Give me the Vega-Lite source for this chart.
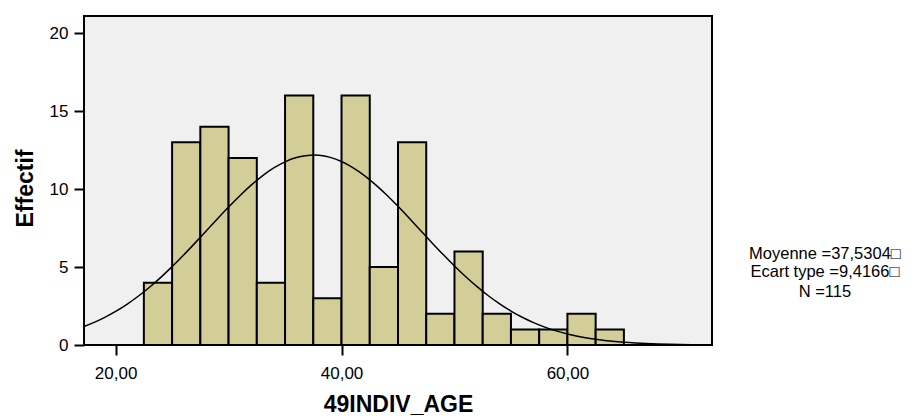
{
  "$schema": "https://vega.github.io/schema/vega-lite/v6.json",
  "width": 628,
  "height": 329,
  "autosize": {"type": "none"},
  "padding": {"left": 84, "top": 16, "right": 211, "bottom": 71},
  "background": "white",
  "config": {
    "view": {"fill": "#f0f0f0", "stroke": "black", "strokeWidth": 2},
    "font": "Liberation Sans",
    "axis": {
      "grid": false,
      "domain": false,
      "tickColor": "black",
      "tickWidth": 2,
      "tickSize": 10,
      "labelColor": "black",
      "titleColor": "black",
      "labelFont": "Liberation Sans",
      "titleFont": "Liberation Sans",
      "labelFontSize": 17,
      "titleFontSize": 23,
      "titleFontWeight": "bold"
    }
  },
  "datasets": {
    "bins": [
      {"start": 22.5, "end": 25, "count": 4},
      {"start": 25, "end": 27.5, "count": 13},
      {"start": 27.5, "end": 30, "count": 14},
      {"start": 30, "end": 32.5, "count": 12},
      {"start": 32.5, "end": 35, "count": 4},
      {"start": 35, "end": 37.5, "count": 16},
      {"start": 37.5, "end": 40, "count": 3},
      {"start": 40, "end": 42.5, "count": 16},
      {"start": 42.5, "end": 45, "count": 5},
      {"start": 45, "end": 47.5, "count": 13},
      {"start": 47.5, "end": 50, "count": 2},
      {"start": 50, "end": 52.5, "count": 6},
      {"start": 52.5, "end": 55, "count": 2},
      {"start": 55, "end": 57.5, "count": 1},
      {"start": 57.5, "end": 60, "count": 1},
      {"start": 60, "end": 62.5, "count": 2},
      {"start": 62.5, "end": 65, "count": 1}
    ],
    "curve": [
      {"x": 17.2, "y": 1.18}, {"x": 18, "y": 1.418}, {"x": 19, "y": 1.757}, {"x": 20, "y": 2.153},
      {"x": 21, "y": 2.609}, {"x": 22, "y": 3.126}, {"x": 23, "y": 3.704}, {"x": 24, "y": 4.339},
      {"x": 25, "y": 5.025}, {"x": 26, "y": 5.755}, {"x": 27, "y": 6.518}, {"x": 28, "y": 7.298},
      {"x": 29, "y": 8.081}, {"x": 30, "y": 8.846}, {"x": 31, "y": 9.577}, {"x": 32, "y": 10.251},
      {"x": 33, "y": 10.849}, {"x": 34, "y": 11.353}, {"x": 35, "y": 11.748}, {"x": 36, "y": 12.02},
      {"x": 37, "y": 12.161}, {"x": 37.53, "y": 12.18}, {"x": 38, "y": 12.165}, {"x": 39, "y": 12.033},
      {"x": 40, "y": 11.768}, {"x": 41, "y": 11.381}, {"x": 42, "y": 10.882}, {"x": 43, "y": 10.289},
      {"x": 44, "y": 9.62}, {"x": 45, "y": 8.892}, {"x": 46, "y": 8.128}, {"x": 47, "y": 7.346},
      {"x": 48, "y": 6.565}, {"x": 49, "y": 5.801}, {"x": 50, "y": 5.069}, {"x": 51, "y": 4.379},
      {"x": 52, "y": 3.741}, {"x": 53, "y": 3.159}, {"x": 54, "y": 2.639}, {"x": 55, "y": 2.179},
      {"x": 56, "y": 1.779}, {"x": 57, "y": 1.4365}, {"x": 58, "y": 1.147}, {"x": 59, "y": 0.9055},
      {"x": 60, "y": 0.7068}, {"x": 61, "y": 0.5455}, {"x": 62, "y": 0.4163}, {"x": 63, "y": 0.3141},
      {"x": 64, "y": 0.2344}, {"x": 65, "y": 0.1729}, {"x": 66, "y": 0.1262}, {"x": 67, "y": 0.091},
      {"x": 68, "y": 0.0649}, {"x": 69, "y": 0.0457}, {"x": 70, "y": 0.0319}, {"x": 71, "y": 0.022}
    ],
    "stats": [
      {"label": ["Moyenne =37,5304□", "Ecart type =9,4166□"]},
      {"label": "N =115"}
    ]
  },
  "layer": [
    {
      "data": {"name": "bins"},
      "mark": {"type": "bar", "fill": "#d3ce98", "stroke": "black", "strokeWidth": 2},
      "encoding": {
        "x": {
          "field": "start",
          "type": "quantitative",
          "scale": {"domain": [17.2, 72.8], "nice": false, "zero": false},
          "axis": {
            "values": [20, 40, 60],
            "labelExpr": "replace(format(datum.value, '.2f'), '.', ',')",
            "title": "49INDIV_AGE",
            "titleY": 66,
            "titleBaseline": "alphabetic",
            "labelPadding": 10,
            "labelFlush": false
          }
        },
        "x2": {"field": "end"},
        "y": {
          "field": "count",
          "type": "quantitative",
          "scale": {"domain": [0, 21.1], "nice": false},
          "axis": {
            "values": [0, 5, 10, 15, 20],
            "title": "Effectif",
            "titleX": -52,
            "titleY": 172,
            "titleAngle": -90,
            "titleAlign": "center",
            "titleBaseline": "alphabetic",
            "labelPadding": 6
          }
        },
        "y2": {"datum": 0}
      }
    },
    {
      "data": {"name": "curve"},
      "mark": {"type": "line", "color": "black", "strokeWidth": 1.5, "interpolate": "monotone"},
      "encoding": {
        "x": {"field": "x", "type": "quantitative"},
        "y": {"field": "y", "type": "quantitative"}
      }
    },
    {
      "data": {"name": "stats"},
      "transform": [{"filter": "isArray(datum.label)"}],
      "mark": {"type": "text", "align": "center", "baseline": "alphabetic", "fontSize": 16.5, "lineHeight": 18, "color": "black", "font": "Liberation Sans"},
      "encoding": {
        "x": {"datum": 82.8},
        "y": {"datum": 5.5},
        "text": {"field": "label"}
      }
    },
    {
      "data": {"name": "stats"},
      "transform": [{"filter": "!isArray(datum.label)"}],
      "mark": {"type": "text", "align": "center", "baseline": "alphabetic", "fontSize": 16.5, "color": "black", "font": "Liberation Sans"},
      "encoding": {
        "x": {"datum": 82.8},
        "y": {"datum": 3.08},
        "text": {"field": "label"}
      }
    }
  ]
}
